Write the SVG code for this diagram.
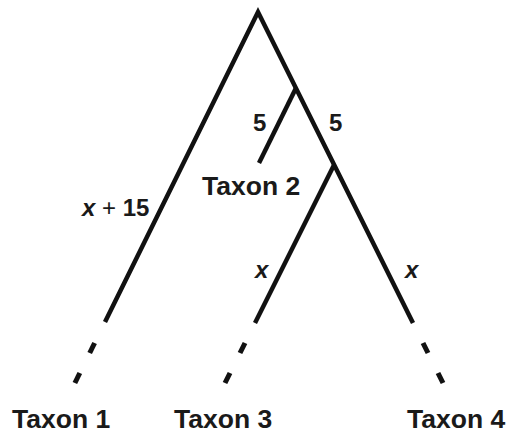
<svg xmlns="http://www.w3.org/2000/svg" width="506" height="434" viewBox="0 0 506 434">
<style>
.br{stroke:#111;stroke-width:4.5;fill:none;stroke-linecap:butt}
.ds{stroke:#111;stroke-width:5;fill:none}
.lb{font-family:"Liberation Sans",Arial,sans-serif;font-weight:bold;font-size:26.5px;fill:#1a1a1a}
.nm{font-family:"Liberation Sans",Arial,sans-serif;font-weight:bold;font-size:24px;fill:#1a1a1a}
.it{font-style:italic}
</style>
<rect width="506" height="434" fill="#fff"/>
<g id="connectors">
<polyline class="br" points="105,322 258,12 413,323"/>
<line class="br" x1="296" y1="88" x2="259" y2="163"/>
<line class="br" x1="334" y1="165" x2="255" y2="323"/>
<line class="ds" x1="94.6" y1="343" x2="89.7" y2="353"/>
<line class="ds" x1="79.8" y1="373" x2="74.9" y2="383"/>
<line class="ds" x1="245" y1="343" x2="240" y2="353"/>
<line class="ds" x1="230" y1="373" x2="225" y2="383"/>
<line class="ds" x1="423" y1="343" x2="428" y2="353"/>
<line class="ds" x1="438" y1="373" x2="443" y2="383"/>
<text class="nm" x="253" y="131">5</text>
<text class="nm" x="329" y="131">5</text>
<text class="nm" x="82" y="216"><tspan class="it">x</tspan><tspan font-weight="normal"> + </tspan>15</text>
<text class="nm it" x="255" y="278">x</text>
<text class="nm it" x="405" y="278">x</text>
</g>
<g id="taxon1"><text class="lb" x="12" y="428">Taxon 1</text></g>
<g id="taxon2"><text class="lb" x="202" y="195">Taxon 2</text></g>
<g id="taxon3"><text class="lb" x="174" y="428">Taxon 3</text></g>
<g id="taxon4"><text class="lb" x="407" y="428">Taxon 4</text></g>
</svg>
